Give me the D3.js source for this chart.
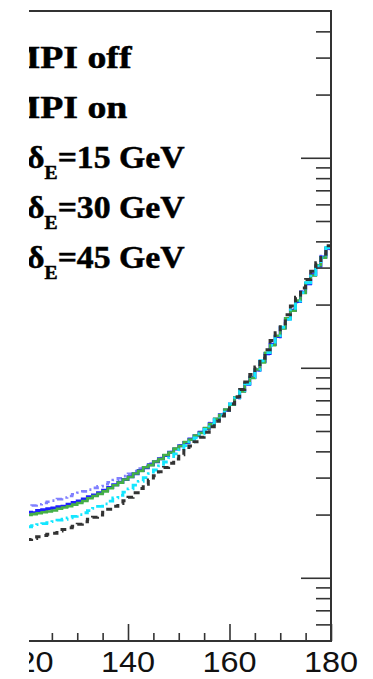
<!DOCTYPE html>
<html>
<head>
<meta charset="utf-8">
<script src="https://cdn.jsdelivr.net/npm/d3@7"></script>
<style>
  html, body { margin: 0; padding: 0; background: #fff; }
  svg { display: block; }
</style>
</head>
<body>
<div id="chart"></div>
<script>
// bin low edges (1 GeV bins), x range of the visible part
const binEdges = d3.range(120, 180, 1);
const xTickMajor = [120, 140, 160, 180];
const xTickMinor = [125, 130, 135, 145, 150, 155, 165, 170, 175];
const xTickLabels = ["120", "140", "160", "180"];
const yTickMajor = [0.01, 0.1, 1];
const yTickMinor = [0.006, 0.007, 0.008, 0.009,
  0.02, 0.03, 0.04, 0.05, 0.06, 0.07, 0.08, 0.09,
  0.2, 0.3, 0.4, 0.5, 0.6, 0.7, 0.8, 0.9, 2, 3, 4];

const legendLabels = ["MPI off", "MPI on", "15", "30", "45"];

// series values (one value per bin)
const mpiOff = [0.0152,0.0154,0.0157,0.0159,0.0161,0.0163,0.0167,0.0170,0.0173,0.0176,
  0.0180,0.0185,0.0190,0.0194,0.0199,0.0205,0.0212,0.0219,0.0226,0.0233,
  0.0242,0.0254,0.0266,0.0279,0.0292,0.0306,0.0320,0.0335,0.0351,0.0368,
  0.0385,0.0404,0.0424,0.0445,0.0467,0.0493,0.0524,0.0556,0.0590,0.0627,
  0.0672,0.0728,0.0789,0.0856,0.0928,0.101,0.111,0.122,0.135,0.147,
  0.162,0.179,0.197,0.217,0.240,0.263,0.288,0.316,0.347,0.381];
const mpiOn = [0.0175,0.0177,0.0179,0.0181,0.0183,0.0185,0.0188,0.0190,0.0193,0.0196,
  0.0200,0.0204,0.0209,0.0214,0.0219,0.0225,0.0232,0.0240,0.0247,0.0256,
  0.0265,0.0276,0.0288,0.0300,0.0313,0.0326,0.0341,0.0356,0.0372,0.0389,
  0.0407,0.0426,0.0444,0.0464,0.0485,0.0509,0.0537,0.0566,0.0596,0.0629,
  0.0673,0.0719,0.0780,0.0838,0.0903,0.0975,0.108,0.118,0.128,0.142,
  0.156,0.170,0.189,0.208,0.228,0.254,0.278,0.306,0.335,0.374];
const dE15 = [0.0199,0.0201,0.0203,0.0205,0.0207,0.0209,0.0213,0.0216,0.0219,0.0223,
  0.0227,0.0232,0.0239,0.0245,0.0251,0.0258,0.0267,0.0276,0.0284,0.0294,
  0.0302,0.0314,0.0323,0.0336,0.0344,0.0358,0.0368,0.0384,0.0395,0.0412,
  0.0424,0.0443,0.0455,0.0476,0.0490,0.0516,0.0539,0.0572,0.0595,0.0633,
  0.0668,0.0724,0.0772,0.0840,0.0895,0.0982,0.106,0.118,0.128,0.142,
  0.154,0.172,0.187,0.209,0.227,0.254,0.275,0.308,0.334,0.374];
const dE30 = [0.0205,0.0204,0.0209,0.0211,0.0213,0.0215,0.0218,0.0219,0.0224,0.0228,
  0.0232,0.0237,0.0243,0.0248,0.0254,0.0261,0.0269,0.0277,0.0285,0.0294,
  0.0303,0.0313,0.0324,0.0334,0.0345,0.0357,0.0369,0.0382,0.0396,0.0410,
  0.0425,0.0441,0.0457,0.0474,0.0492,0.0514,0.0541,0.0569,0.0598,0.0630,
  0.0670,0.0721,0.0776,0.0836,0.0899,0.0977,0.107,0.117,0.129,0.141,
  0.155,0.171,0.188,0.207,0.229,0.252,0.277,0.305,0.337,0.371];
const dE45 = [0.0218,0.0221,0.0224,0.0227,0.0230,0.0233,0.0237,0.0241,0.0245,0.0250,
  0.0254,0.0258,0.0263,0.0268,0.0273,0.0279,0.0285,0.0292,0.0298,0.0305,
  0.0313,0.0322,0.0331,0.0340,0.0350,0.0361,0.0372,0.0384,0.0397,0.0411,
  0.0427,0.0439,0.0459,0.0472,0.0495,0.0512,0.0545,0.0566,0.0602,0.0627,
  0.0674,0.0716,0.0781,0.0831,0.0905,0.0971,0.108,0.116,0.130,0.140,
  0.156,0.170,0.190,0.205,0.231,0.250,0.280,0.303,0.340,0.368];

const W = 373, H = 679;
const frame = {left: 29, right: 331, top: 11, bottom: 641};
const sx = 1.09; // picture is stretched a bit sideways

const svg = d3.select("#chart").append("svg")
    .attr("width", W).attr("height", H);

svg.append("clipPath").attr("id", "crop")
  .append("rect").attr("x", frame.left).attr("y", 0).attr("width", W - frame.left).attr("height", H);
svg.append("clipPath").attr("id", "plotArea")
  .append("rect").attr("x", frame.left).attr("y", frame.top)
    .attr("width", frame.right - frame.left).attr("height", frame.bottom - frame.top);

const root = svg.append("g").attr("clip-path", "url(#crop)");

const x = d3.scaleLinear().domain([120, 180]).range([26.5, 331]);
const y = d3.scaleLog().domain([0.005, 5]).range([frame.bottom, frame.top]);

// curves
const series = [
  {values: dE45,   color: "#8080ff", width: 2.6, dash: "2 4 6 4"},
  {values: dE30,   color: "#1f1fff", width: 3, dash: null},
  {values: dE15,   color: "#45b045", width: 2.6, dash: null},
  {values: mpiOn,  color: "#14e6ff", width: 2.8, dash: "8 4 2 4"},
  {values: mpiOff, color: "#333333", width: 3, dash: "6 5"}
];

const line = d3.line()
    .x(d => x(d[0])).y(d => y(d[1]))
    .curve(d3.curveStepAfter);

const curves = root.append("g").attr("clip-path", "url(#plotArea)");
series.forEach(s => {
  const pts = binEdges.map((e, i) => [e, s.values[i]]);
  pts.push([180, s.values[s.values.length - 1]]);
  curves.append("path")
      .attr("d", line(pts))
      .attr("fill", "none")
      .attr("stroke", s.color)
      .attr("stroke-width", s.width)
      .attr("stroke-dasharray", s.dash);
});

// frame
const axisColor = "#333";
root.append("line").attr("x1", frame.left).attr("x2", frame.right + 1)
    .attr("y1", frame.top).attr("y2", frame.top)
    .attr("stroke", axisColor).attr("stroke-width", 2);

// bottom axis, ticks pointing up
const xAxisMajor = d3.axisTop(x).tickValues(xTickMajor).tickSize(17).tickFormat("");
const xAxisMinor = d3.axisTop(x).tickValues(xTickMinor).tickSize(8).tickFormat("");
[xAxisMajor, xAxisMinor].forEach(ax => {
  const g = root.append("g").attr("transform", `translate(0,${frame.bottom})`).call(ax);
  g.select(".domain").remove();
  g.selectAll("line").attr("stroke", axisColor).attr("stroke-width", 1.6);
});
root.append("line").attr("x1", frame.left).attr("x2", frame.right + 1)
    .attr("y1", frame.bottom).attr("y2", frame.bottom)
    .attr("stroke", axisColor).attr("stroke-width", 2);

// right log axis, ticks pointing inwards
const yAxisMajor = d3.axisLeft(y).tickValues(yTickMajor).tickSize(30).tickFormat("");
const yAxisMinor = d3.axisLeft(y).tickValues(yTickMinor).tickSize(15).tickFormat("");
[yAxisMajor, yAxisMinor].forEach(ax => {
  const g = root.append("g").attr("transform", `translate(${frame.right},0)`).call(ax);
  g.select(".domain").remove();
  g.selectAll("line").attr("stroke", axisColor).attr("stroke-width", 1.6);
});
root.append("line").attr("x1", frame.right).attr("x2", frame.right)
    .attr("y1", frame.top - 1).attr("y2", frame.bottom + 1)
    .attr("stroke", axisColor).attr("stroke-width", 2);

// x tick labels
xTickMajor.forEach((v, i) => {
  root.append("g").attr("transform", `translate(${x(v)},672) scale(1.1,1)`)
    .append("text")
      .attr("text-anchor", "middle")
      .attr("font-family", "'Liberation Sans', Arial, sans-serif")
      .attr("font-size", 29.5)
      .attr("fill", "#111")
      .text(xTickLabels[i]);
});

// legend (marker column is outside the crop)
const legendFont = "'Liberation Serif', 'Times New Roman', serif";
const baselines = [68, 118, 168, 218, 268];
legendLabels.forEach((lab, i) => {
  const isMpi = i < 2;
  const g = root.append("g")
      .attr("transform", isMpi
        ? `translate(4.5,${baselines[i]}) scale(1.22,1)`
        : `translate(27,${baselines[i]}) scale(${sx},1)`);
  const t = g.append("text")
      .attr("font-family", legendFont)
      .attr("font-weight", "bold")
      .attr("font-size", 31)
      .attr("fill", "#000")
      .attr("stroke", "#000").attr("stroke-width", 0.5);
  if (isMpi) {
    t.text(lab);
  } else {
    t.append("tspan").text("δ");
    t.append("tspan").attr("font-size", 18).attr("dy", 11).text("E");
    t.append("tspan").attr("dy", -11).text("=" + lab + " GeV");
  }
});
</script>
</body>
</html>
